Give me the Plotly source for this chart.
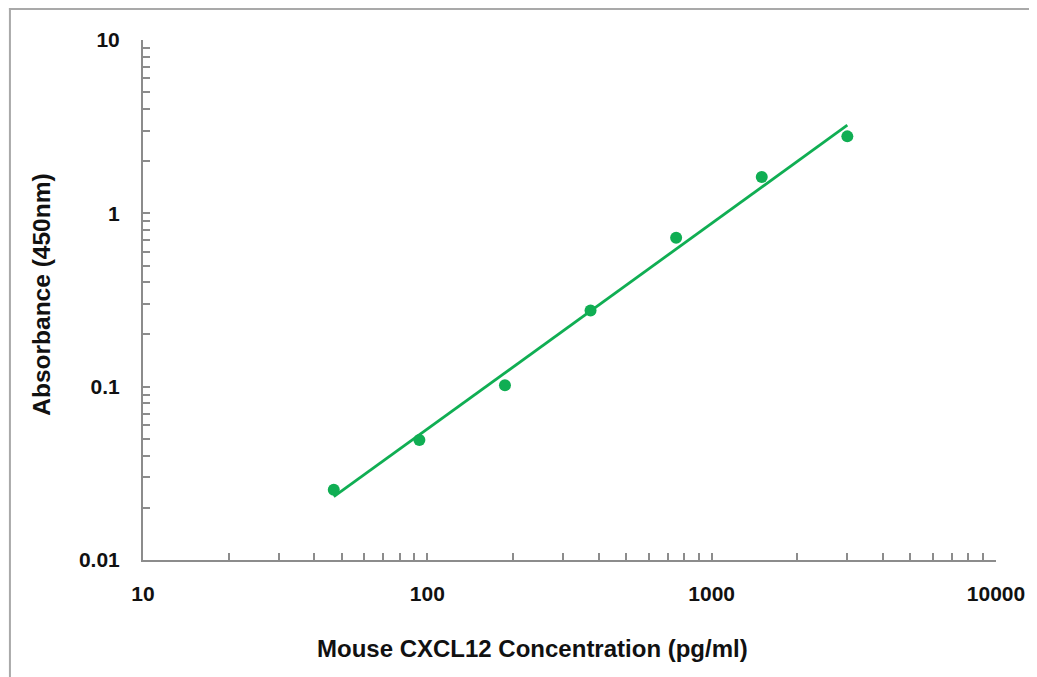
import numpy as np
import plotly.graph_objects as go

# Data
concentration = [46.875, 93.75, 187.5, 375, 750, 1500, 3000]
absorbance = [0.0254, 0.0493, 0.102, 0.275, 0.722, 1.62, 2.78]

x_tick_labels = ["10", "100", "1000", "10000"]
y_tick_labels = ["0.01", "0.1", "1", "10"]

x_title = "Mouse CXCL12 Concentration (pg/ml)"
y_title = "Absorbance (450nm)"

GREEN = "#10AE53"
AXIS_GRAY = "#8c8c8c"
FONT = "Liberation Sans, Arial, sans-serif"

# Power-law trendline (least-squares fit in log-log space)
lx = np.log10(concentration)
ly = np.log10(absorbance)
slope, intercept = np.polyfit(lx, ly, 1)
fit_x = np.array([min(concentration), max(concentration)])
fit_y = 10 ** (intercept + slope * np.log10(fit_x))

def log_ticks(decades, labels):
    vals, texts = [], []
    for i, d in enumerate(decades):
        vals.append(d)
        texts.append("<b>%s</b>" % labels[i])
        if i < len(decades) - 1:
            for m in range(2, 10):
                vals.append(d * m)
                texts.append("")
    return vals, texts

xv, xt = log_ticks([10, 100, 1000, 10000], x_tick_labels)
yv, yt = log_ticks([0.01, 0.1, 1, 10], y_tick_labels)

fig = go.Figure()
fig.add_trace(go.Scatter(
    x=fit_x, y=fit_y, mode="lines",
    line=dict(color=GREEN, width=2.8), showlegend=False, hoverinfo="skip"))
fig.add_trace(go.Scatter(
    x=concentration, y=absorbance, mode="markers",
    marker=dict(color=GREEN, size=12), showlegend=False))

# page body has an 8px margin; the figure is sized/offset to compensate
OFF = 8
W, H = 1037 - OFF, 677 - OFF
L, R, T, B = 135, 35, 32, 117
pw, ph = W - L - R, H - T - B

def px_x(p):
    return (p - OFF - L) / pw

def px_y(p):
    return (H - B - (p - OFF)) / ph

axis_common = dict(
    type="log", showgrid=False, zeroline=False, showline=True,
    linecolor=AXIS_GRAY, linewidth=2, ticks="inside", ticklen=7,
    tickcolor=AXIS_GRAY, tickwidth=1.5, tickmode="array",
    tickfont=dict(family=FONT, size=21, color="#111"),
)

fig.update_layout(
    width=W, height=H,
    margin=dict(l=L, r=R, t=T, b=B),
    paper_bgcolor="white", plot_bgcolor="white",
    xaxis=dict(axis_common, range=[1, 4], tickvals=xv, ticktext=xt,
               ticklabelstandoff=14),
    yaxis=dict(axis_common, range=[-2, 1], tickvals=yv, ticktext=yt,
               ticklabelstandoff=17),
    annotations=[
        dict(text="<b>%s</b>" % x_title, xref="paper", yref="paper",
             x=px_x(535), y=px_y(648), xanchor="center", yanchor="middle",
             showarrow=False,
             font=dict(family=FONT, size=24, color="#111")),
        dict(text="<b>%s</b>" % y_title, xref="paper", yref="paper",
             x=px_x(40), y=px_y(295), xanchor="center", yanchor="middle",
             showarrow=False, textangle=-90,
             font=dict(family=FONT, size=24.5, color="#111")),
    ],
    shapes=[
        dict(type="line", xref="paper", yref="paper",
             x0=px_x(OFF), x1=px_x(1045), y0=px_y(OFF + 1), y1=px_y(OFF + 1),
             line=dict(color="#a9a9a9", width=2)),
        dict(type="line", xref="paper", yref="paper",
             x0=px_x(OFF + 1), x1=px_x(OFF + 1), y0=px_y(OFF), y1=px_y(685),
             line=dict(color="#a9a9a9", width=2)),
    ],
)

fig.write_html("out.html")
